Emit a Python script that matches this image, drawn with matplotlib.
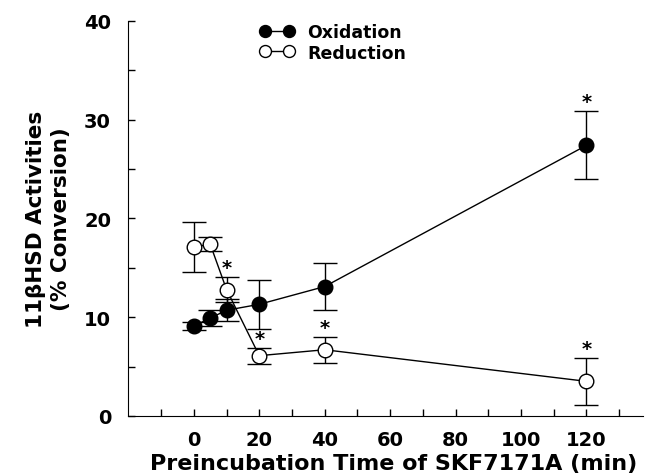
import numpy as np
import matplotlib.pyplot as plt
from matplotlib.lines import Line2D

plt.rcParams["font.family"] = ["DejaVu Sans"]
plt.rcParams["font.weight"] = "bold"

time = [0, 5, 10, 20, 40, 120]
oxidation = [9.1, 9.9, 10.7, 11.3, 13.1, 27.4]
oxidation_err = [0.4, 0.8, 1.1, 2.45, 2.4, 3.45]
reduction = [17.1, 17.4, 12.8, 6.1, 6.7, 3.5]
reduction_err = [2.5, 0.7, 1.3, 0.8, 1.3, 2.35]
ox_star = [False, False, False, False, False, True]
red_star = [False, False, True, True, True, True]

fig = plt.figure(figsize=(6.45, 4.77), dpi=100)
ax = fig.add_axes([0.198, 0.126, 0.799, 0.828])

ax.errorbar(time, oxidation, yerr=oxidation_err, fmt="-o", color="black",
            mfc="black", mec="black", ms=10.5, lw=1, elinewidth=1,
            capsize=8.5, capthick=1, zorder=3)
ax.errorbar(time, reduction, yerr=reduction_err, fmt="-o", color="black",
            mfc="white", mec="black", ms=10.5, mew=1, lw=1, elinewidth=1,
            capsize=8.5, capthick=1, zorder=3)

# significance stars, just above the upper cap
for t, v, e, s in zip(time, oxidation, oxidation_err, ox_star):
    if s:
        ax.text(t, v + e + 0.4, "*", ha="center", va="baseline", fontsize=14)
for t, v, e, s in zip(time, reduction, reduction_err, red_star):
    if s:
        ax.text(t, v + e + 0.4, "*", ha="center", va="baseline", fontsize=14)

ax.set_xlim(-20.2, 137.3)
ax.set_ylim(0, 40)
ax.set_xticks(np.arange(-10, 131, 10))
ax.set_xticklabels([str(v) if v >= 0 and v % 20 == 0 else "" for v in range(-10, 131, 10)])
ax.set_yticks(np.arange(0, 41, 5))
ax.set_yticklabels([str(v) if v % 10 == 0 else "" for v in range(0, 41, 5)])
ax.tick_params(axis="both", direction="in", length=5, width=1, labelsize=14)
ax.tick_params(axis="x", pad=10)
ax.tick_params(axis="y", pad=12)
ax.spines["top"].set_visible(False)
ax.spines["right"].set_visible(False)

ax.set_xlabel("Preincubation Time of SKF7171A (min)", fontsize=16, fontweight="bold")
ax.xaxis.set_label_coords(0.516, -0.095)
ax.set_ylabel("11\u03b2HSD Activities\n(% Conversion)", fontsize=15.5,
              fontweight="bold", linespacing=1.3)
ax.yaxis.set_label_coords(-0.11, 0.5)

handles = [
    Line2D([], [], color="black", lw=1, marker="o", ms=8.6, mfc="black", mec="black"),
    Line2D([], [], color="black", lw=1, marker="o", ms=8.6, mfc="white", mec="black"),
]
leg = ax.legend(handles, ["Oxidation", "Reduction"], loc="upper left",
                bbox_to_anchor=(0.256, 0.995), frameon=False, fontsize=12.5,
                handlelength=2.0, handletextpad=0.75, labelspacing=0.15,
                borderpad=0, borderaxespad=0, numpoints=2)
for t in leg.get_texts():
    t.set_fontweight("bold")

fig.savefig("out.png", dpi=100)
